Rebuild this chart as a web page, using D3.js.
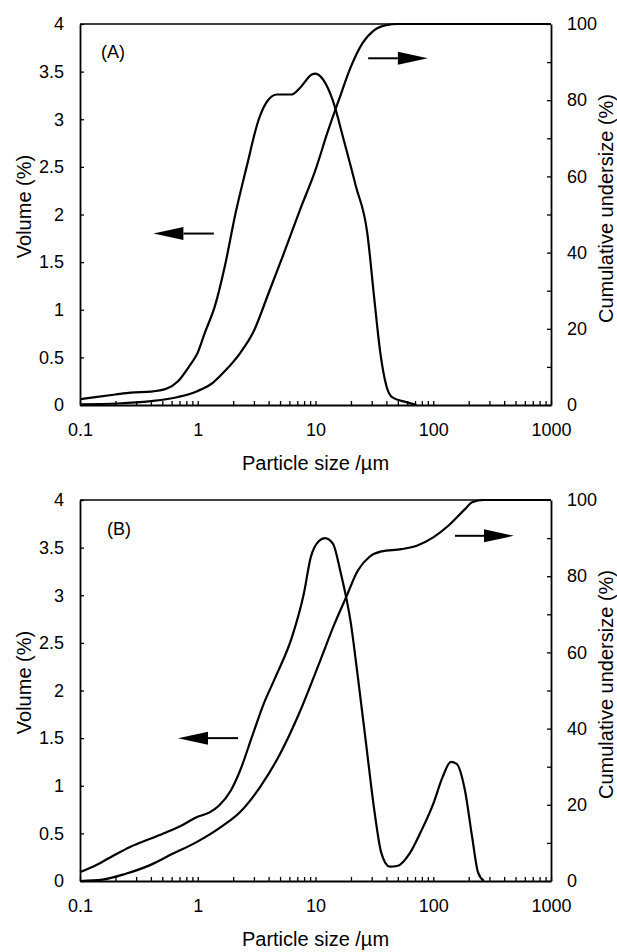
<!DOCTYPE html>
<html>
<head>
<meta charset="utf-8">
<script src="https://cdn.jsdelivr.net/npm/d3@7"></script>
<style>
  body { margin: 0; background: #fff; }
  svg { display: block; font-family: "Liberation Sans", Arial, sans-serif; }
  .axis text { font-size: 18px; fill: #000; }
  .axis path, .axis line { stroke: #000; }
  .axis path { stroke-width: 1.8; }
  .axis line { stroke-width: 1.3; }
  .curve { fill: none; stroke: #000; stroke-width: 2.2; }
</style>
</head>
<body>
<div id="chart"></div>
<script>
// ---- data ----
// panel A: volume distribution (left axis)
var sizeVolA = [0.1, 0.13, 0.2, 0.27, 0.4, 0.54, 0.68, 0.85, 1, 1.15, 1.4, 1.7, 2.1, 2.6, 3.3, 3.8, 4.7, 6.3, 7.4, 9.3, 10, 11.7, 14, 17.4, 22, 27.5, 31.6, 35.5, 40, 45, 59, 72];
var volA     = [0.06, 0.08, 0.11, 0.13, 0.14, 0.17, 0.25, 0.41, 0.55, 0.76, 1.04, 1.46, 2.02, 2.5, 3.0, 3.17, 3.26, 3.26, 3.33, 3.47, 3.48, 3.41, 3.2, 2.78, 2.3, 1.81, 1.11, 0.55, 0.2, 0.08, 0.03, 0];
// panel A: cumulative undersize (right axis)
var sizeCumA = [0.1, 0.21, 0.4, 0.68, 1, 1.35, 1.7, 2.3, 2.95, 4, 5.4, 7.4, 10, 12.6, 15.8, 20, 25, 31.6, 40, 50, 1000];
var cumA     = [0.2, 0.4, 1.0, 2.1, 3.7, 5.9, 8.9, 13.7, 19, 29.4, 39.9, 51.3, 61.7, 71.4, 80.1, 88.8, 94.9, 98.4, 99.7, 100, 100];

// panel B: volume distribution
var sizeVolB = [0.1, 0.134, 0.182, 0.269, 0.389, 0.537, 0.724, 0.977, 1.26, 1.51, 1.91, 2.29, 2.88, 3.63, 4.57, 6.31, 7.94, 9.12, 10.7, 12.0, 14.1, 16.2, 20, 22.9, 26.9, 31.6, 36.3, 42.7, 50.1, 63.1, 79.4, 100, 120, 141, 158, 186, 214, 240, 269];
var volB     = [0.094, 0.16, 0.25, 0.36, 0.44, 0.51, 0.58, 0.67, 0.72, 0.79, 0.95, 1.16, 1.51, 1.86, 2.14, 2.56, 3.01, 3.40, 3.57, 3.6, 3.54, 3.26, 2.7, 2.14, 1.44, 0.74, 0.29, 0.15, 0.16, 0.29, 0.53, 0.81, 1.09, 1.25, 1.23, 0.95, 0.46, 0.09, 0];
// panel B: cumulative undersize
var sizeCumB = [0.1, 0.155, 0.245, 0.389, 0.617, 0.977, 1.58, 2.29, 3.39, 5.01, 7.24, 10.7, 14.5, 18.2, 22.9, 28.8, 36.3, 53.7, 72.4, 100, 135, 186, 214, 269, 1000];
var cumB     = [0, 0.35, 1.9, 4.1, 7.2, 10.2, 14.2, 18.1, 24.7, 33.4, 43.9, 57, 67.5, 74.5, 81.5, 85.1, 86.5, 87.1, 88, 90.2, 93.3, 97.6, 99.4, 100, 100];

// axis ticks
var volTicks = [0, 0.5, 1, 1.5, 2, 2.5, 3, 3.5, 4];
var cumTicks = [0, 10, 20, 30, 40, 50, 60, 70, 80, 90, 100];
var sizeLabels = [0.1, 1, 10, 100, 1000];

// arrows: [x tail, x tip, y value, which axis]
var arrowsA = [[1.37, 0.42, 1.8, "vol"], [28, 90, 91, "cum"]];
var arrowsB = [[2.2, 0.68, 1.5, "vol"], [153, 485, 90.6, "cum"]];

var svgWidth = 617;
var svgHeight = 952;

var svg = d3.select("#chart")
  .append("svg")
  .attr("width", svgWidth)
  .attr("height", svgHeight);

svg.append("rect").attr("width", svgWidth).attr("height", svgHeight).attr("fill", "#fff");

var left = 80, right = 551;

// minor log ticks 1..9 per decade
var sizeTicks = [];
[0.1, 1, 10, 100].forEach(function(dec) {
  for (var k = 1; k < 10; k++) sizeTicks.push(+(dec * k).toPrecision(3));
});
sizeTicks.push(1000);

function drawPanel(top, bottom, label, labelX, labelY, sizeVol, vol, sizeCum, cum, arrows) {
  var x = d3.scaleLog().domain([0.1, 1000]).range([left, right]);
  var yVol = d3.scaleLinear().domain([0, 4]).range([bottom, top]);
  var yCum = d3.scaleLinear().domain([0, 100]).range([bottom, top]);

  // axes
  svg.append("g")
    .attr("class", "axis")
    .attr("transform", `translate(0, ${bottom})`)
    .call(d3.axisBottom(x).tickValues(sizeTicks).tickSizeInner(-4).tickSizeOuter(0).tickPadding(18)
      .tickFormat(d => sizeLabels.indexOf(d) >= 0 ? d3.format("~g")(d) : ""));

  svg.append("g")
    .attr("class", "axis")
    .attr("transform", `translate(${left}, 0)`)
    .call(d3.axisLeft(yVol).tickValues(volTicks).tickSizeInner(-4).tickSizeOuter(0).tickPadding(16)
      .tickFormat(d3.format("~g")));

  svg.append("g")
    .attr("class", "axis")
    .attr("transform", `translate(${right}, 0)`)
    .call(d3.axisRight(yCum).tickValues(cumTicks).tickSizeInner(-4).tickSizeOuter(0).tickPadding(16)
      .tickFormat(d => d % 20 === 0 ? d : ""));

  // top frame line
  svg.append("line")
    .attr("x1", left).attr("x2", right)
    .attr("y1", top).attr("y2", top)
    .attr("stroke", "#000").attr("stroke-width", 1.6);

  svg.selectAll(".axis text").attr("font-family", null);

  // curves
  var volLine = d3.line()
    .x(d => x(d[0]))
    .y(d => yVol(d[1]))
    .curve(d3.curveMonotoneX);
  var cumLine = d3.line()
    .x(d => x(d[0]))
    .y(d => yCum(d[1]))
    .curve(d3.curveMonotoneX);

  svg.append("path")
    .datum(d3.zip(sizeVol, vol))
    .attr("class", "curve")
    .attr("d", volLine);

  svg.append("path")
    .datum(d3.zip(sizeCum, cum))
    .attr("class", "curve")
    .attr("d", cumLine);

  // arrows
  arrows.forEach(function(a) {
    var yy = a[3] === "vol" ? yVol(a[2]) : yCum(a[2]);
    var x0 = x(a[0]), x1 = x(a[1]);
    var dir = x1 > x0 ? 1 : -1;
    var headLen = 30, halfW = 6.5;
    svg.append("line")
      .attr("x1", x0).attr("x2", x1 - dir * headLen)
      .attr("y1", yy).attr("y2", yy)
      .attr("stroke", "#000").attr("stroke-width", 2);
    svg.append("path")
      .attr("d", `M${x1},${yy} L${x1 - dir * headLen},${yy - halfW} L${x1 - dir * headLen},${yy + halfW} Z`)
      .attr("fill", "#000");
  });

  // panel label
  svg.append("text")
    .attr("x", labelX).attr("y", labelY)
    .attr("font-size", "18px")
    .text(label);

  // axis titles
  var mid = (top + bottom) / 2;
  svg.append("text")
    .attr("transform", `translate(31, ${mid - 8}) rotate(-90)`)
    .attr("text-anchor", "middle")
    .attr("font-size", "20px")
    .text("Volume (%)");

  svg.append("text")
    .attr("transform", `translate(613, ${mid - 6}) rotate(-90)`)
    .attr("text-anchor", "middle")
    .attr("font-size", "20px")
    .text("Cumulative undersize (%)");

  svg.append("text")
    .attr("x", (left + right) / 2)
    .attr("y", bottom + 65)
    .attr("text-anchor", "middle")
    .attr("font-size", "20px")
    .text("Particle size /\u00b5m");
}

drawPanel(24, 405, "(A)", 101, 58, sizeVolA, volA, sizeCumA, cumA, arrowsA);
drawPanel(500, 881, "(B)", 107, 535, sizeVolB, volB, sizeCumB, cumB, arrowsB);
</script>
</body>
</html>
